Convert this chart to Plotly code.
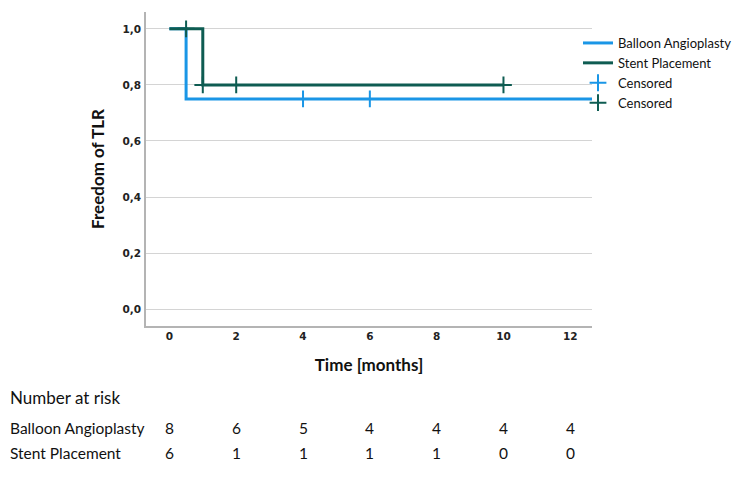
import plotly.graph_objects as go

# Kaplan-Meier step data
balloon_t = [0, 0.5, 13]
balloon_s = [1.0, 0.75, 0.75]
stent_t = [0, 1, 10]
stent_s = [1.0, 0.8, 0.8]

balloon_cens_t = [4, 6]
balloon_cens_s = [0.75, 0.75]
stent_cens_t = [0.5, 1, 2, 10]
stent_cens_s = [1.0, 0.8, 0.8, 0.8]

risk_times = [0, 2, 4, 6, 8, 10, 12]
risk_balloon = [8, 6, 5, 4, 4, 4, 4]
risk_stent = [6, 1, 1, 1, 1, 0, 0]

BLUE = "#1a96e6"
GREEN = "#0e5c52"
FONT = "Lato"

# page body has an 8px margin; work in window pixels and convert
OFF = 8
W, H = 744 - OFF, 477 - 2 * OFF
ml, mt = 146 - OFF, 12 - OFF
mr = W - (592 - OFF)
mb = H - (326 - OFF)
pw, ph = W - ml - mr, H - mt - mb

def py(ywin):
    return (H - mb - (ywin - OFF)) / ph

def px(xwin):
    return ((xwin - OFF) - ml) / pw

fig = go.Figure()
fig.add_trace(go.Scatter(x=balloon_t, y=balloon_s, mode="lines", line_shape="hv",
                         line=dict(color=BLUE, width=3), name="Balloon Angioplasty"))
fig.add_trace(go.Scatter(x=stent_t, y=stent_s, mode="lines", line_shape="hv",
                         line=dict(color=GREEN, width=3), name="Stent Placement"))
fig.add_trace(go.Scatter(x=balloon_cens_t, y=balloon_cens_s, mode="markers",
                         marker=dict(symbol="cross-thin", size=12, line=dict(color=BLUE, width=2)),
                         name="Censored"))
fig.add_trace(go.Scatter(x=stent_cens_t, y=stent_cens_s, mode="markers",
                         marker=dict(symbol="cross-thin", size=12, line=dict(color=GREEN, width=2)),
                         name="Censored"))

annotations = [dict(text="Number at risk", x=px(8), y=py(397), xref="paper", yref="paper",
                    showarrow=False, xanchor="left", yanchor="middle",
                    font=dict(family=FONT, size=17, color="#111"))]
rows = [("Balloon Angioplasty", risk_balloon, 428), ("Stent Placement", risk_stent, 453)]
for label, vals, ypix in rows:
    annotations.append(dict(text=label, x=px(8), y=py(ypix), xref="paper", yref="paper",
                            showarrow=False, xanchor="left", yanchor="middle",
                            font=dict(family=FONT, size=15.5, color="#111")))
    for t, v in zip(risk_times, vals):
        annotations.append(dict(text=str(v), x=t, y=py(ypix), xref="x", yref="paper",
                                showarrow=False, xanchor="center", yanchor="middle",
                                font=dict(family=FONT, size=15.5, color="#111")))

fig.update_layout(
    width=W, height=H,
    margin=dict(l=ml, r=mr, t=mt, b=mb, autoexpand=False),
    paper_bgcolor="white", plot_bgcolor="white",
    separators=",.",
    showlegend=True,
    legend=dict(x=px(578), xanchor="left", y=py(28), yanchor="top",
                font=dict(family=FONT, size=13, color="#111"),
                tracegroupgap=0, itemwidth=30, bgcolor="rgba(0,0,0,0)"),
    annotations=annotations,
    xaxis=dict(range=[-0.7, 12.65], tickvals=risk_times, showgrid=False, zeroline=False,
               showline=True, linecolor="#b4b4b4", linewidth=1.5, ticks="", ticklen=0,
               tickfont=dict(family="DejaVu Sans", size=10.5, color="#222", weight="bold"),
               title=dict(text="Time [months]", standoff=18,
                          font=dict(family=FONT, size=17, color="#111", weight="bold"))),
    yaxis=dict(range=[-0.06, 1.06], tickvals=[0, 0.2, 0.4, 0.6, 0.8, 1.0], tickformat=".1f",
               showgrid=True, gridcolor="#d4d4d4", gridwidth=1, zeroline=False,
               showline=True, linecolor="#b4b4b4", linewidth=1.5, ticks="",
               ticklabelstandoff=1,
               tickfont=dict(family="DejaVu Sans", size=10.5, color="#222", weight="bold"),
               title=dict(text="Freedom of TLR", standoff=14,
                          font=dict(family=FONT, size=17, color="#111", weight="bold"))),
)

fig.write_html("out.html")
